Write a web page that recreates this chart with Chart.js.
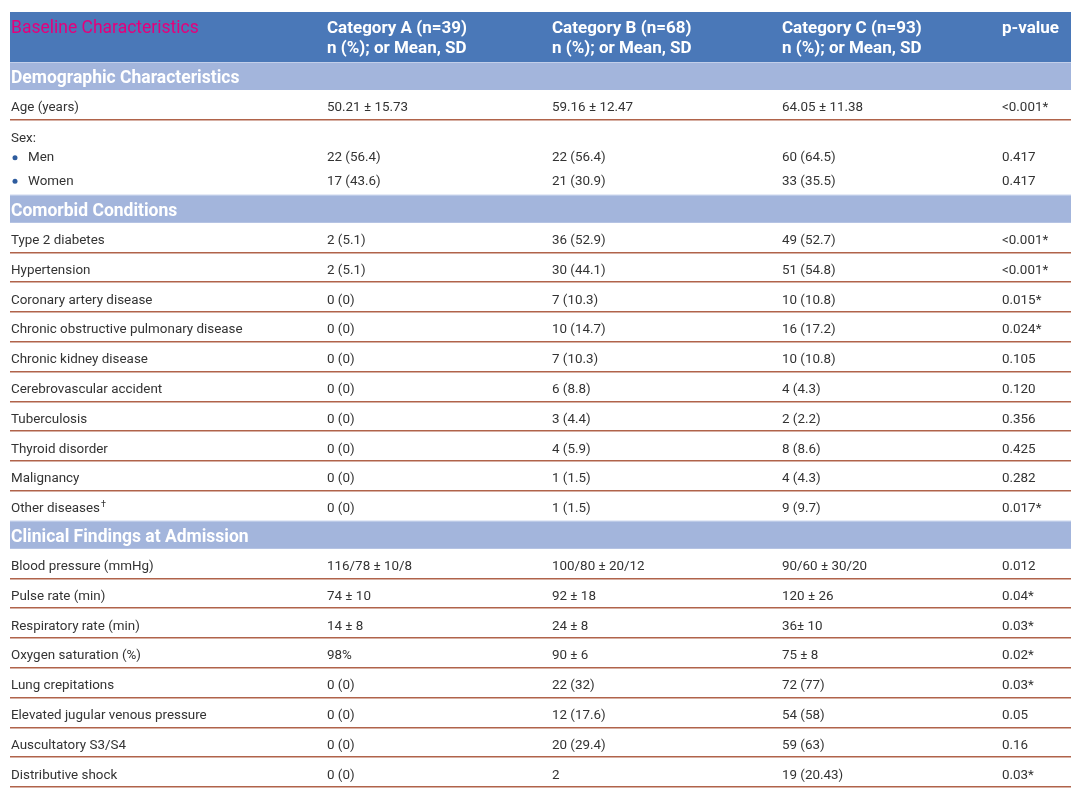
<!DOCTYPE html>
<html>
<head>
<meta charset="utf-8">
<script src="https://cdn.jsdelivr.net/npm/chart.js@4/dist/chart.umd.min.js"></script>
<style>
html,body{margin:0;padding:0;background:#fff;}
</style>
</head>
<body>
<canvas id="tbl" width="1080" height="800"></canvas>
<script>
// column headers
const headTitle = 'Baseline Characteristics';
const headCols = [['Category A (n=39)','n (%); or Mean, SD'],['Category B (n=68)','n (%); or Mean, SD'],['Category C (n=93)','n (%); or Mean, SD'],['p-value','']];

// rows: kind = section | data | label | bullet
const rowKinds = ['section','data','label','bullet','bullet',
  'section','data','data','data','data','data','data','data','data','data','data',
  'section','data','data','data','data','data','data','data','data'];
const rowLabels = ['Demographic Characteristics','Age (years)','Sex:','Men','Women',
  'Comorbid Conditions','Type 2 diabetes','Hypertension','Coronary artery disease','Chronic obstructive pulmonary disease','Chronic kidney disease','Cerebrovascular accident','Tuberculosis','Thyroid disorder','Malignancy','Other diseases\u2020',
  'Clinical Findings at Admission','Blood pressure (mmHg)','Pulse rate (min)','Respiratory rate (min)','Oxygen saturation (%)','Lung crepitations','Elevated jugular venous pressure','Auscultatory S3/S4','Distributive shock'];
const catA = ['','50.21 \u00b1 15.73','','22 (56.4)','17 (43.6)',
  '','2 (5.1)','2 (5.1)','0 (0)','0 (0)','0 (0)','0 (0)','0 (0)','0 (0)','0 (0)','0 (0)',
  '','116/78 \u00b1 10/8','74 \u00b1 10','14 \u00b1 8','98%','0 (0)','0 (0)','0 (0)','0 (0)'];
const catB = ['','59.16 \u00b1 12.47','','22 (56.4)','21 (30.9)',
  '','36 (52.9)','30 (44.1)','7 (10.3)','10 (14.7)','7 (10.3)','6 (8.8)','3 (4.4)','4 (5.9)','1 (1.5)','1 (1.5)',
  '','100/80 \u00b1 20/12','92 \u00b1 18','24 \u00b1 8','90 \u00b1 6','22 (32)','12 (17.6)','20 (29.4)','2'];
const catC = ['','64.05 \u00b1 11.38','','60 (64.5)','33 (35.5)',
  '','49 (52.7)','51 (54.8)','10 (10.8)','16 (17.2)','10 (10.8)','4 (4.3)','2 (2.2)','8 (8.6)','4 (4.3)','9 (9.7)',
  '','90/60 \u00b1 30/20','120 \u00b1 26','36\u00b1 10','75 \u00b1 8','72 (77)','54 (58)','59 (63)','19 (20.43)'];
const pValues = ['','<0.001*','','0.417','0.417',
  '','<0.001*','<0.001*','0.015*','0.024*','0.105','0.120','0.356','0.425','0.282','0.017*',
  '','0.012','0.04*','0.03*','0.02*','0.03*','0.05','0.16','0.03*'];

// layout (row heights, text offsets, column starts)
const headH = 50;
const kindH = {section:28, data:29.8, label:28, bullet:23.5};
const kindOff = {section:16.5, data:17.8, label:18.5, bullet:10};
const colStart = [1, 317, 542, 772, 992];

let tops = [], acc = headH;
rowKinds.forEach(k => { tops.push(acc); acc += kindH[k]; });
const totalH = acc;

const tablePlugin = {
  id:'tablePlugin',
  afterDraw(chart){
    const ctx = chart.ctx, x = chart.scales.x, y = chart.scales.y;
    const L = x.getPixelForValue(0), R = x.getPixelForValue(x.max);
    const colX = colStart.map(v => x.getPixelForValue(v));
    ctx.save();
    ctx.textBaseline = 'middle';
    // header band
    const y0 = y.getPixelForValue(0), y1 = y.getPixelForValue(headH);
    ctx.fillStyle = '#4a78b8';
    ctx.fillRect(L, y0, R-L, y1-y0);
    ctx.font = '17.5px Roboto';
    ctx.fillStyle = '#e4007c';
    ctx.fillText(headTitle, colX[0], y.getPixelForValue(17));
    ctx.font = 'bold 17px Roboto';
    ctx.fillStyle = '#ffffff';
    headCols.forEach((h,i) => {
      ctx.fillText(h[0], colX[i+1], y.getPixelForValue(17));
      if(h[1]) ctx.fillText(h[1], colX[i+1], y.getPixelForValue(37));
    });
    // rows
    rowKinds.forEach((k,i) => {
      const t = y.getPixelForValue(tops[i]), b = y.getPixelForValue(tops[i]+kindH[k]);
      const cy = y.getPixelForValue(tops[i]+kindOff[k]);
      if(k==='section'){
        ctx.fillStyle = '#a3b5dc';
        ctx.fillRect(L, t, R-L, b-t);
        ctx.fillStyle = '#c3cfea';
        ctx.fillRect(L, t, R-L, 1);
        ctx.font = 'bold 17.5px Roboto';
        ctx.fillStyle = '#ffffff';
        ctx.fillText(rowLabels[i], colX[0], cy);
        return;
      }
      ctx.font = '13.4px Roboto';
      ctx.fillStyle = '#333333';
      if(k==='bullet'){
        ctx.fillStyle = '#2e5c9e';
        ctx.beginPath();
        ctx.arc(colX[0]+4, cy, 2.5, 0, Math.PI*2);
        ctx.fill();
        ctx.fillStyle = '#333333';
        ctx.fillText(rowLabels[i], colX[0]+17, cy);
      } else if(rowLabels[i].endsWith('\u2020')){
        const base = rowLabels[i].slice(0,-1);
        ctx.fillText(base, colX[0], cy);
        const w = ctx.measureText(base).width;
        ctx.font = '9px Roboto';
        ctx.fillText('\u2020', colX[0]+w+1, cy-4);
        ctx.font = '13.4px Roboto';
      } else {
        ctx.fillText(rowLabels[i], colX[0], cy);
      }
      [catA[i], catB[i], catC[i], pValues[i]].forEach((v,j) => {
        if(v) ctx.fillText(v, colX[j+1], cy);
      });
      // separator below data rows unless a section band follows
      const next = rowKinds[i+1];
      if(k==='data' && next!=='section'){
        ctx.fillStyle = '#b0634a';
        ctx.fillRect(L, Math.round(b)-1, R-L, 1.5);
      }
    });
    ctx.restore();
  }
};

new Chart(document.getElementById('tbl'), {
  type:'scatter',
  data:{datasets:[{data:[]}]},
  options:{
    responsive:false,
    animation:false,
    events:[],
    layout:{padding:{left:10, right:9, top:12, bottom:800-12-totalH}},
    plugins:{legend:{display:false}, tooltip:{enabled:false}},
    scales:{
      x:{type:'linear', min:0, max:1061, display:false},
      y:{type:'linear', min:0, max:totalH, reverse:true, display:false}
    }
  },
  plugins:[tablePlugin]
});
</script>
</body>
</html>
